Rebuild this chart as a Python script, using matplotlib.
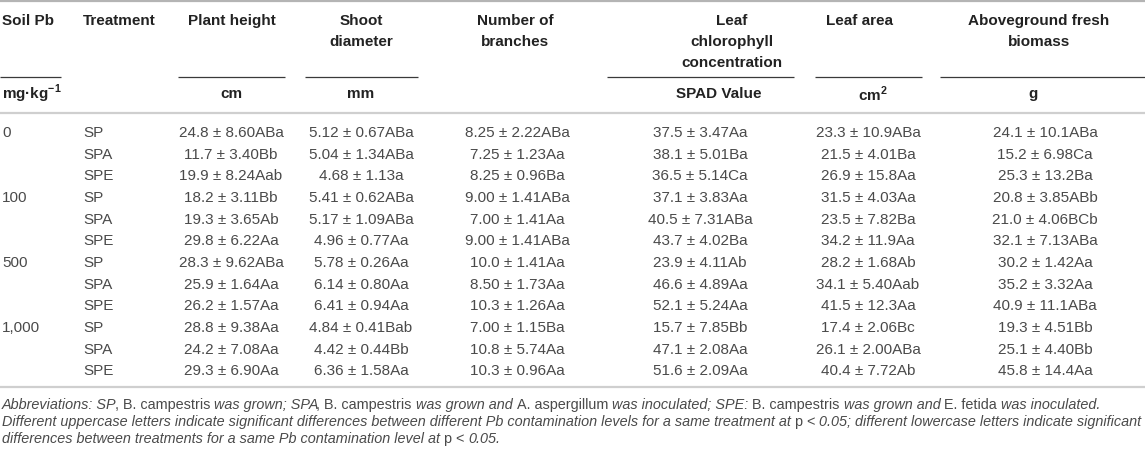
import matplotlib
matplotlib.use("Agg")
import matplotlib.pyplot as plt
from matplotlib import font_manager

# ----------------------------------------------------------------------------------
# table values
# ----------------------------------------------------------------------------------
soil_pb = ["0", "100", "500", "1,000"]
treatments = ["SP", "SPA", "SPE"]

plant_height = ["24.8 ± 8.60ABa", "11.7 ± 3.40Bb", "19.9 ± 8.24Aab",
                "18.2 ± 3.11Bb", "19.3 ± 3.65Ab", "29.8 ± 6.22Aa",
                "28.3 ± 9.62ABa", "25.9 ± 1.64Aa", "26.2 ± 1.57Aa",
                "28.8 ± 9.38Aa", "24.2 ± 7.08Aa", "29.3 ± 6.90Aa"]
shoot_diameter = ["5.12 ± 0.67ABa", "5.04 ± 1.34ABa", "4.68 ± 1.13a",
                  "5.41 ± 0.62ABa", "5.17 ± 1.09ABa", "4.96 ± 0.77Aa",
                  "5.78 ± 0.26Aa", "6.14 ± 0.80Aa", "6.41 ± 0.94Aa",
                  "4.84 ± 0.41Bab", "4.42 ± 0.44Bb", "6.36 ± 1.58Aa"]
branches = ["8.25 ± 2.22ABa", "7.25 ± 1.23Aa", "8.25 ± 0.96Ba",
            "9.00 ± 1.41ABa", "7.00 ± 1.41Aa", "9.00 ± 1.41ABa",
            "10.0 ± 1.41Aa", "8.50 ± 1.73Aa", "10.3 ± 1.26Aa",
            "7.00 ± 1.15Ba", "10.8 ± 5.74Aa", "10.3 ± 0.96Aa"]
chlorophyll = ["37.5 ± 3.47Aa", "38.1 ± 5.01Ba", "36.5 ± 5.14Ca",
               "37.1 ± 3.83Aa", "40.5 ± 7.31ABa", "43.7 ± 4.02Ba",
               "23.9 ± 4.11Ab", "46.6 ± 4.89Aa", "52.1 ± 5.24Aa",
               "15.7 ± 7.85Bb", "47.1 ± 2.08Aa", "51.6 ± 2.09Aa"]
leaf_area = ["23.3 ± 10.9ABa", "21.5 ± 4.01Ba", "26.9 ± 15.8Aa",
             "31.5 ± 4.03Aa", "23.5 ± 7.82Ba", "34.2 ± 11.9Aa",
             "28.2 ± 1.68Ab", "34.1 ± 5.40Aab", "41.5 ± 12.3Aa",
             "17.4 ± 2.06Bc", "26.1 ± 2.00ABa", "40.4 ± 7.72Ab"]
biomass = ["24.1 ± 10.1ABa", "15.2 ± 6.98Ca", "25.3 ± 13.2Ba",
           "20.8 ± 3.85ABb", "21.0 ± 4.06BCb", "32.1 ± 7.13ABa",
           "30.2 ± 1.42Aa", "35.2 ± 3.32Aa", "40.9 ± 11.1ABa",
           "19.3 ± 4.51Bb", "25.1 ± 4.40Bb", "45.8 ± 14.4Aa"]

headers = [["Plant height"], ["Shoot", "diameter"], ["Number of", "branches"],
           ["Leaf", "chlorophyll", "concentration"], ["Leaf area"],
           ["Aboveground fresh", "biomass"]]
units = ["cm", "mm", None, "SPAD Value", "cm$^{\\mathbf{2}}$", "g"]

footnote = [
    [("Abbreviations: SP", "italic"), (", B. campestris ", "normal"), ("was grown; SPA", "italic"),
     (", B. campestris ", "normal"), ("was grown and ", "italic"), ("A. aspergillum ", "normal"),
     ("was inoculated; SPE: ", "italic"), ("B. campestris ", "normal"), ("was grown and ", "italic"),
     ("E. fetida ", "normal"), ("was inoculated.", "italic")],
    [("Different uppercase letters indicate significant differences between different Pb "
      "contamination levels for a same treatment at ", "italic"), ("p < ", "normal"),
     ("0.05; different lowercase letters indicate significant", "italic")],
    [("differences between treatments for a same Pb contamination level at ", "italic"),
     ("p < ", "normal"), ("0.05.", "italic")],
]

# ----------------------------------------------------------------------------------
# layout
# ----------------------------------------------------------------------------------
plt.rcParams['font.family'] = ['Liberation Sans', 'DejaVu Sans']
plt.rcParams['mathtext.fontset'] = 'custom'
plt.rcParams['mathtext.rm'] = 'Liberation Sans'
plt.rcParams['mathtext.bf'] = 'Liberation Sans:bold'

W, H = 1145, 453
fig = plt.figure(figsize=(W / 100, H / 100), dpi=100)
ax = fig.add_axes([0, 0, 1, 1])
ax.set_xlim(0, W)
ax.set_ylim(H, 0)
ax.axis('off')

head_col = '#222222'
data_col = '#4a4a4a'
fs = 11

col_x = [231, 361, 517, 700, 868, 1045]
head_x = [232, 361, 515, 732, 859, 1039]
unit_x = [231, 361, None, 719, 873, 1033]
underlines = [(0, 61), (178, 285), (305, 418), (607, 794), (815, 922), (940, 1145)]
head_y = [21, 42, 63]

# rules
ax.plot([0, W], [1, 1], color='#b4b4b4', lw=1.6, solid_capstyle='butt')
ax.plot([0, W], [113, 113], color='#cfcfcf', lw=1.6, solid_capstyle='butt')
ax.plot([0, W], [387, 387], color='#cfcfcf', lw=1.6, solid_capstyle='butt')
for x0, x1 in underlines:
    ax.plot([x0, x1], [77, 77], color='#3a3a3a', lw=0.9, solid_capstyle='butt')

# header
ax.text(2, head_y[0], "Soil Pb", ha='left', va='center', fontsize=fs, fontweight='bold', color=head_col)
ax.text(83, head_y[0], "Treatment", ha='left', va='center', fontsize=fs, fontweight='bold', color=head_col)
ax.text(2, 94, "mg·kg$^{\\mathbf{-1}}$", ha='left', va='center', fontsize=fs, fontweight='bold', color=head_col)
for i, lines in enumerate(headers):
    for j, line in enumerate(lines):
        ax.text(head_x[i], head_y[j], line, ha='center', va='center', fontsize=fs,
                fontweight='bold', color=head_col)
    if units[i] is not None:
        ax.text(unit_x[i], 94, units[i], ha='center', va='center', fontsize=fs,
                fontweight='bold', color=head_col)

# body
columns = [plant_height, shoot_diameter, branches, chlorophyll, leaf_area, biomass]
row_y0, row_dy = 133, 21.65
for g, pb in enumerate(soil_pb):
    ax.text(2, row_y0 + g * 3 * row_dy, pb, ha='left', va='center', fontsize=fs, color=data_col)
    for k, tr in enumerate(treatments):
        r = g * 3 + k
        y = row_y0 + r * row_dy
        ax.text(83, y, tr, ha='left', va='center', fontsize=fs, color=data_col)
        for c, vals in enumerate(columns):
            ax.text(col_x[c], y, vals[r], ha='center', va='center', fontsize=fs, color=data_col)

# footnote, mixed italic / upright runs
names = {f.name for f in font_manager.fontManager.ttflist}
foot_font = 'Liberation Sans Narrow' if 'Liberation Sans Narrow' in names else 'Liberation Sans'
renderer = fig.canvas.get_renderer()


def run_width(s, style, size):
    t = ax.text(0, 0, s + "|", fontsize=size, style=style, family=foot_font)
    bar = ax.text(0, 0, "|", fontsize=size, style=style, family=foot_font)
    w = t.get_window_extent(renderer).width - bar.get_window_extent(renderer).width
    t.remove()
    bar.remove()
    # italic run ending on a glyph leaves a small overhang gap
    if style == 'italic' and not s.endswith(" "):
        w -= 2
    return w


test = 10
line2 = sum(run_width(s, st, test) for s, st in footnote[1])
foot_fs = test * (1137 / line2)

foot_y = [405, 422, 439]
for li, runs in enumerate(footnote):
    x = 2
    for s, st in runs:
        ax.text(x, foot_y[li], s, ha='left', va='center', fontsize=foot_fs, style=st,
                family=foot_font, color=data_col)
        x += run_width(s, st, foot_fs)

fig.savefig('out.png', dpi=100)
